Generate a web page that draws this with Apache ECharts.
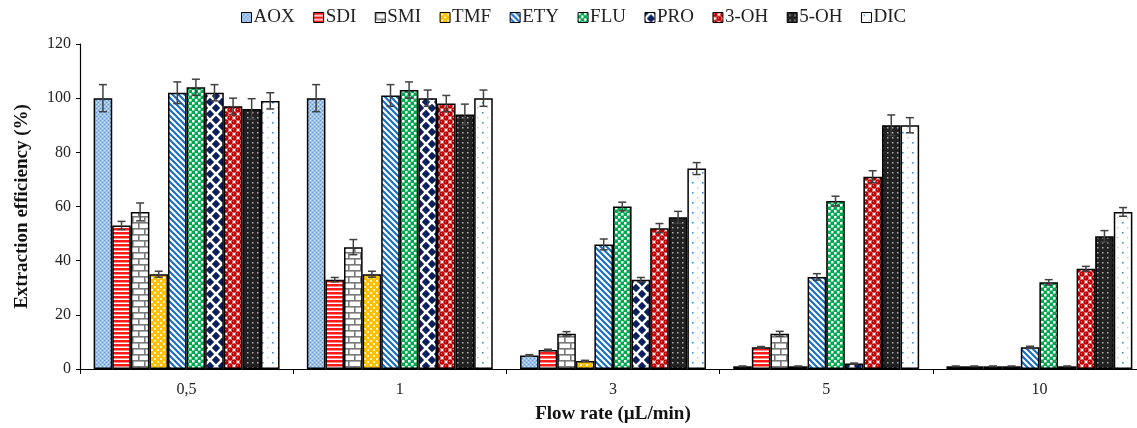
<!DOCTYPE html>
<html>
<head>
<meta charset="utf-8">
<script src="https://cdn.jsdelivr.net/npm/echarts@6/dist/echarts.min.js"></script>
<style>
html,body{margin:0;padding:0;background:#fff;}
#chart{width:1137px;height:428px;}
</style>
</head>
<body>
<div id="chart"></div>
<script>
// ---------- data ----------
var categories = ['0,5', '1', '3', '5', '10'];
var seriesNames = ['AOX', 'SDI', 'SMI', 'TMF', 'ETY', 'FLU', 'PRO', '3-OH', '5-OH', 'DIC'];
var AOX = [100, 100, 5, 1, 1];
var SDI = [53, 33, 7, 8, 1];
var SMI = [58, 45, 13, 13, 1];
var TMF = [35, 35, 3, 1, 1];
var ETY = [102, 101, 46, 34, 8];
var FLU = [104, 103, 60, 62, 32];
var PRO = [102, 100, 33, 2, 1];
var OH3 = [97, 98, 52, 71, 37];
var OH5 = [96, 94, 56, 90, 49];
var DIC = [99, 100, 74, 90, 58];
var AOX_err = [5, 5, 0.3, 0.1, 0.1];
var SDI_err = [1.5, 0.8, 0.3, 0.3, 0.1];
var SMI_err = [3.3, 2.8, 0.8, 0.9, 0.1];
var TMF_err = [1.1, 1.1, 0.2, 0.1, 0.1];
var ETY_err = [4, 4, 2, 1.2, 0.4];
var FLU_err = [3, 3, 1.6, 1.8, 1];
var PRO_err = [3, 3, 0.8, 0.2, 0.1];
var OH3_err = [3, 3, 1.7, 2.2, 0.9];
var OH5_err = [3.8, 3.8, 2.2, 3.8, 2.1];
var DIC_err = [3, 3, 2.2, 2.8, 1.6];
var yTicks = [0, 20, 40, 60, 80, 100, 120];

var values = [AOX, SDI, SMI, TMF, ETY, FLU, PRO, OH3, OH5, DIC];
var errors = [AOX_err, SDI_err, SMI_err, TMF_err, ETY_err, FLU_err, PRO_err, OH3_err, OH5_err, DIC_err];

// ---------- patterns ----------
function tile(w, h, draw) {
  var c = document.createElement('canvas');
  c.width = w; c.height = h;
  var g = c.getContext('2d');
  draw(g, w, h);
  return { image: c, repeat: 'repeat' };
}
var patterns = [
  tile(4, 4, function (g) {
    g.fillStyle = '#9cc2ea'; g.fillRect(0, 0, 4, 4);
    g.fillStyle = '#5b94d3'; g.fillRect(0, 0, 1, 1); g.fillRect(2, 2, 1, 1);
    g.fillStyle = '#d6e6f7'; g.fillRect(2, 0, 1, 1); g.fillRect(0, 2, 1, 1);
  }),
  tile(4, 4, function (g) {
    g.fillStyle = '#ffffff'; g.fillRect(0, 0, 4, 4);
    g.fillStyle = '#ff1a1a'; g.fillRect(0, 0, 4, 2.5);
  }),
  tile(12, 12, function (g) {
    g.fillStyle = '#ffffff'; g.fillRect(0, 0, 12, 12);
    g.fillStyle = '#7a7a7a';
    g.fillRect(0, 0, 12, 1.6); g.fillRect(0, 6, 12, 1.6);
    g.fillRect(0, 0, 1.6, 6); g.fillRect(6, 6, 1.6, 6);
  }),
  tile(6, 6, function (g) {
    g.fillStyle = '#ffc000'; g.fillRect(0, 0, 6, 6);
    g.fillStyle = '#fff4cf'; g.fillRect(1, 1, 2, 2); g.fillRect(4, 4, 2, 2);
  }),
  tile(6, 6, function (g) {
    g.fillStyle = '#ffffff'; g.fillRect(0, 0, 6, 6);
    g.strokeStyle = '#1a6fc4'; g.lineWidth = 2.2;
    g.beginPath();
    g.moveTo(-6, 0); g.lineTo(6, 12);
    g.moveTo(0, 0); g.lineTo(6, 6);
    g.moveTo(-3, -3); g.lineTo(9, 9);
    g.moveTo(0, -6); g.lineTo(12, 6);
    g.stroke();
  }),
  tile(6, 6, function (g) {
    g.fillStyle = '#00a94f'; g.fillRect(0, 0, 6, 6);
    g.fillStyle = '#ffffff'; g.fillRect(0, 0, 2.5, 2.5); g.fillRect(3, 3, 2.5, 2.5);
  }),
  tile(12, 12, function (g) {
    g.fillStyle = '#ffffff'; g.fillRect(0, 0, 12, 12);
    g.fillStyle = '#0b1f5c';
    var pts = [[0, 0], [12, 0], [0, 12], [12, 12], [6, 6]];
    pts.forEach(function (p) {
      g.beginPath();
      g.moveTo(p[0], p[1] - 4.2); g.lineTo(p[0] + 4.2, p[1]);
      g.lineTo(p[0], p[1] + 4.2); g.lineTo(p[0] - 4.2, p[1]);
      g.closePath(); g.fill();
    });
  }),
  tile(8, 8, function (g) {
    g.fillStyle = '#ffffff'; g.fillRect(0, 0, 8, 8);
    g.fillStyle = '#c00000';
    [[2, 2], [6, 6], [-2, 6], [6, -2], [2, 10], [10, 2]].forEach(function (p) {
      g.beginPath(); g.arc(p[0], p[1], 2.7, 0, Math.PI * 2); g.fill();
    });
    g.fillStyle = '#f2a0a0';
    g.fillRect(1, 1, 1, 1); g.fillRect(5, 5, 1, 1);
  }),
  tile(5, 5, function (g) {
    g.fillStyle = '#222222'; g.fillRect(0, 0, 5, 5);
    g.fillStyle = '#b0b0b0'; g.fillRect(2, 2, 1.5, 1.5);
  }),
  tile(10, 10, function (g) {
    g.fillStyle = '#ffffff'; g.fillRect(0, 0, 10, 10);
    g.fillStyle = '#4a90d9'; g.fillRect(2, 2, 1.6, 1.6);
    g.fillStyle = '#a9cbee'; g.fillRect(7, 7, 1.4, 1.4);
  })
];

var GAP = 0.128;
var FONT = '"Liberation Serif", "Times New Roman", serif';

var series = seriesNames.map(function (name, i) {
  return {
    name: name,
    type: 'bar',
    data: values[i],
    barGap: '0%',
    barCategoryGap: (GAP * 100) + '%',
    itemStyle: { color: patterns[i], borderColor: '#000', borderWidth: 1.5 },
    emphasis: { disabled: true }
  };
});

var errData = [];
for (var s = 0; s < values.length; s++) {
  for (var c = 0; c < categories.length; c++) {
    errData.push([c, s, values[s][c], errors[s][c]]);
  }
}
series.push({
  type: 'custom',
  name: 'err',
  data: errData,
  z: 10,
  silent: true,
  clip: false,
  encode: { x: 0, y: 2 },
  renderItem: function (params, api) {
    var ci = api.value(0), si = api.value(1), v = api.value(2), e = api.value(3);
    var center = api.coord([ci, v]);
    var catW = api.size([1, 0])[0];
    var bw = catW * (1 - GAP) / seriesNames.length;
    var x = center[0] + (si - (seriesNames.length - 1) / 2) * bw;
    var yTop = api.coord([ci, v + e])[1];
    var yBot = api.coord([ci, v - e])[1];
    var cap = 4;
    var st = { stroke: '#404040', lineWidth: 1.5 };
    return {
      type: 'group',
      children: [
        { type: 'line', shape: { x1: x, y1: yTop, x2: x, y2: yBot }, style: st },
        { type: 'line', shape: { x1: x - cap, y1: yTop, x2: x + cap, y2: yTop }, style: st },
        { type: 'line', shape: { x1: x - cap, y1: yBot, x2: x + cap, y2: yBot }, style: st }
      ]
    };
  }
});

var chart = echarts.init(document.getElementById('chart'), null, { renderer: 'canvas' });
chart.setOption({
  animation: false,
  backgroundColor: '#ffffff',
  textStyle: { fontFamily: FONT },
  legend: {
    data: seriesNames,
    top: 3,
    left: 236,
    itemWidth: 10,
    itemHeight: 10,
    itemGap: 18.5,
    icon: 'rect',
    textStyle: { fontFamily: FONT, fontSize: 19, color: '#222', padding: [0, 0, 0, -3] },
    itemStyle: { borderColor: '#000', borderWidth: 1 }
  },
  grid: { left: 80, top: 44, width: 1066, height: 325, containLabel: false, outerBoundsMode: 'none' },
  xAxis: {
    type: 'category',
    data: categories,
    name: 'Flow rate (µL/min)',
    nameLocation: 'middle',
    nameGap: 36,
    nameTextStyle: { fontFamily: FONT, fontSize: 19, fontWeight: 'bold', color: '#111' },
    axisLine: { lineStyle: { color: '#000', width: 1.2 } },
    axisTick: { show: true, length: 5, lineStyle: { color: '#000' } },
    axisLabel: { fontFamily: FONT, fontSize: 16, color: '#222', margin: 13 },
    splitLine: { show: false }
  },
  yAxis: {
    type: 'value',
    min: 0,
    max: 120,
    interval: 20,
    name: 'Extraction efficiency (%)',
    nameLocation: 'middle',
    nameGap: 48,
    nameRotate: 90,
    nameTextStyle: { fontFamily: FONT, fontSize: 19, fontWeight: 'bold', color: '#111' },
    axisLine: { show: true, lineStyle: { color: '#000', width: 1.2 } },
    axisTick: { show: true, length: 4, lineStyle: { color: '#000' } },
    axisLabel: {
      fontFamily: FONT, fontSize: 16, color: '#222', margin: 9,
      formatter: function (v) { return yTicks.indexOf(v) >= 0 ? String(v) : ''; }
    },
    splitLine: { show: false }
  },
  series: series
});
</script>
</body>
</html>
